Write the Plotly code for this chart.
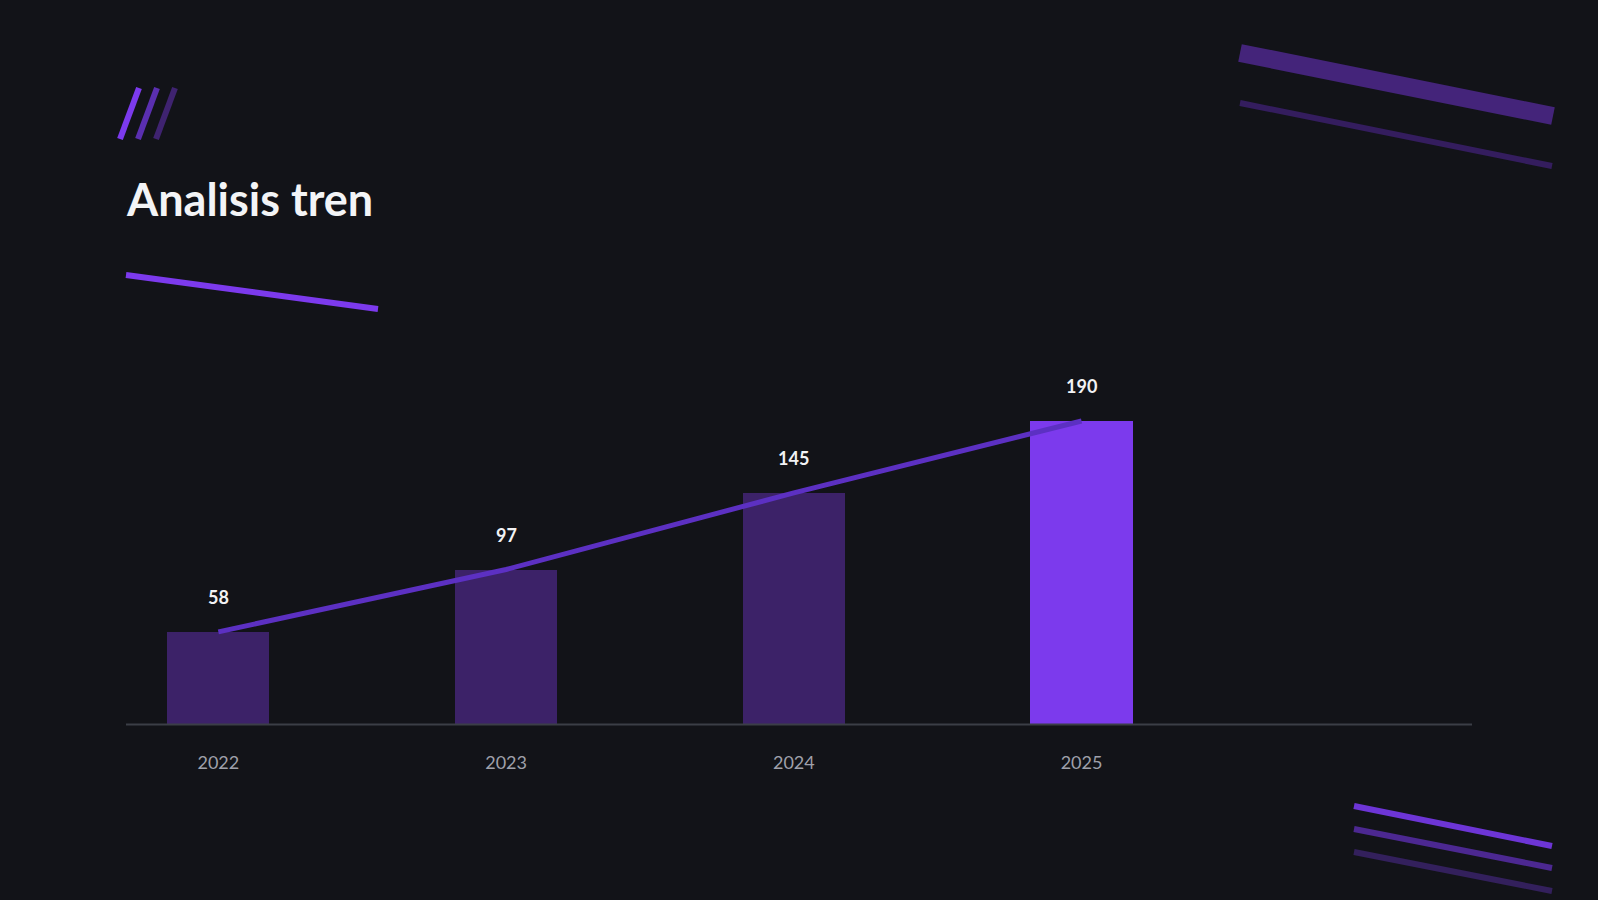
import plotly.graph_objects as go

W, H = 1598, 900

# donnees du graphique
years = ["2022", "2023", "2024", "2025"]
values = [58, 97, 145, 190]
bar_colors = ["#3c2268", "#3c2268", "#3c2268", "#7c3aed"]

BG = "#121318"


# conversion pixels -> coordonnees papier
def px(x):
    return x / W


def py(y):
    return 1 - y / H


fig = go.Figure()

fig.add_trace(go.Bar(
    x=years,
    y=values,
    marker=dict(color=bar_colors, line=dict(width=0)),
    width=0.355,
    hoverinfo="skip",
))

# ligne de tendance
fig.add_trace(go.Scatter(
    x=years,
    y=values,
    mode="lines",
    line=dict(color="#5c30c2", width=5),
    hoverinfo="skip",
))

# etiquettes de valeurs au-dessus des barres (x = index de categorie)
for i, v in enumerate(values):
    fig.add_annotation(
        x=i, y=v, yshift=35,
        text=str(v),
        showarrow=False,
        font=dict(family="Lato", size=18, color="#f2f2f4", weight=700),
    )

# titre
fig.add_annotation(
    x=px(124), y=py(199), xref="paper", yref="paper",
    xanchor="left", yanchor="middle",
    text="Analisis tren",
    showarrow=False,
    font=dict(family="Lato", size=45, color="#f3f4f6", weight=700),
)

# elements decoratifs
deco = [
    # barres obliques en haut a gauche
    (120, 139, 139, 88, "#7c3aed", 6),
    (138, 139, 157, 88, "#5a2fb0", 6),
    (156, 139, 175, 88, "#3f2370", 6),
    # trait sous le titre
    (126, 275, 378, 309, "#7c3aed", 6),
    # bandes en haut a droite
    (1240, 53, 1553, 116, "#44247a", 18),
    (1240, 103, 1552, 166, "#341d5e", 6),
    # traits en bas a droite
    (1354, 806, 1552, 846, "#6d35d6", 6),
    (1354, 829, 1552, 868, "#4c2891", 6),
    (1354, 852, 1552, 891, "#33205c", 6),
]
for x0, y0, x1, y1, c, w in deco:
    fig.add_shape(
        type="line", xref="paper", yref="paper",
        x0=px(x0), y0=py(y0), x1=px(x1), y1=py(y1),
        line=dict(color=c, width=w),
        layer="below",
    )

fig.update_layout(
    width=W, height=H,
    margin=dict(l=0, r=0, t=0, b=0),
    paper_bgcolor=BG,
    plot_bgcolor=BG,
    showlegend=False,
    bargap=0,
    xaxis=dict(
        type="category",
        domain=[px(126), px(1472)],
        range=[-0.321, 4.357],
        showgrid=False,
        zeroline=False,
        showline=False,
        ticks="outside",
        ticklen=22,
        tickcolor=BG,
        tickfont=dict(family="Lato", size=18, color="#9fa0aa"),
        fixedrange=True,
    ),
    yaxis=dict(
        domain=[py(724.5), py(405)],
        range=[0, 200],
        showgrid=False,
        zeroline=False,
        showline=False,
        showticklabels=False,
        fixedrange=True,
    ),
)

# ligne de base de l'axe
fig.add_shape(
    type="line", xref="paper", yref="paper",
    x0=px(126), x1=px(1472), y0=py(724.5), y1=py(724.5),
    line=dict(color="#3b3e46", width=2),
)

# pas de marge autour de la figure dans la page
fig.write_html(
    "out.html",
    config={"displayModeBar": False},
    post_script="document.body.style.margin='0';document.body.style.background='%s';" % BG,
)
